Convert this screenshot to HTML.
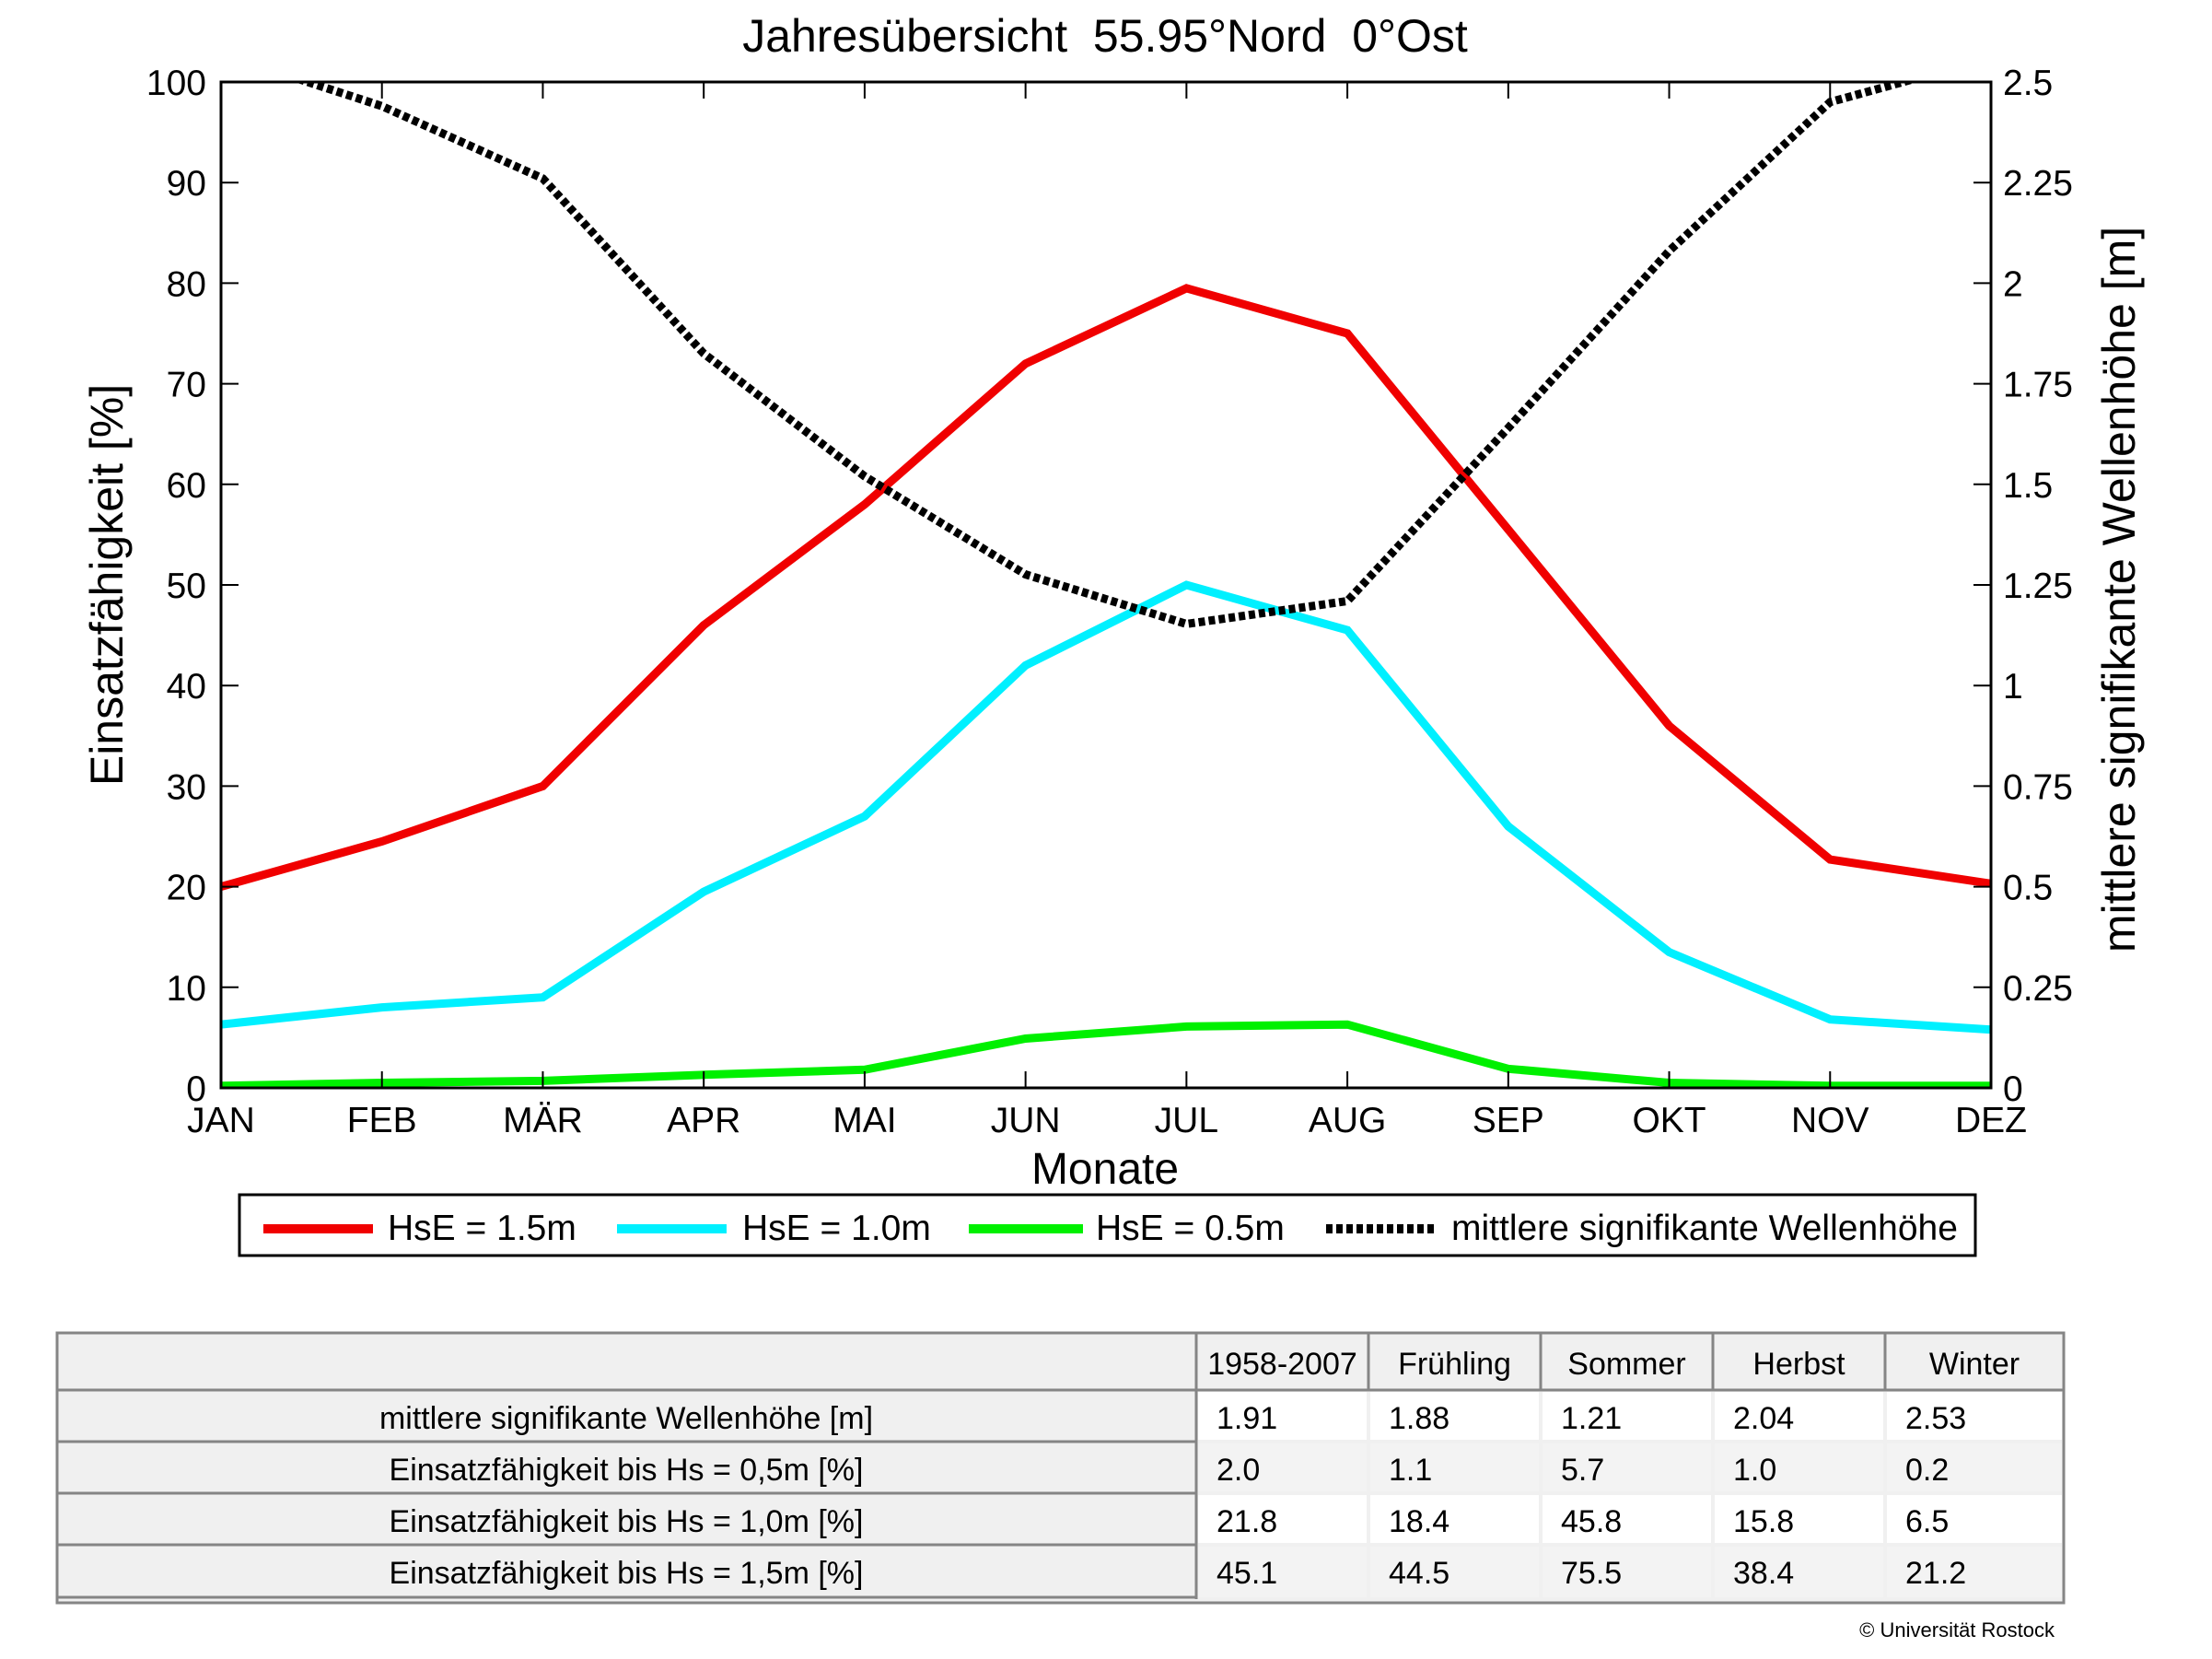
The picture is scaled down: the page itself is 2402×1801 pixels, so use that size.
<!DOCTYPE html>
<html><head><meta charset="utf-8"><style>
html,body{margin:0;padding:0;background:#fff;}
svg{display:block;font-family:"Liberation Sans",Arial,sans-serif;}
</style></head><body>
<svg id="chart" width="2402" height="1801" viewBox="0 0 2402 1801" xmlns="http://www.w3.org/2000/svg">
<defs><clipPath id="plotclip"><rect x="240" y="89" width="1922" height="1092"/></clipPath></defs>
<rect x="0" y="0" width="2402" height="1801" fill="#fff"/>
<text x="1200" y="56" font-size="50" text-anchor="middle" xml:space="preserve">Jahresübersicht  55.95°Nord  0°Ost</text>
<g id="grid"></g>
<g id="series" clip-path="url(#plotclip)"></g>
<rect x="240" y="89" width="1922" height="1092" fill="none" stroke="#000" stroke-width="3"/>
<g id="axes"></g>
<text x="1200" y="1285" font-size="48" text-anchor="middle">Monate</text>
<text transform="translate(133,635) rotate(-90)" font-size="50" text-anchor="middle">Einsatzfähigkeit [%]</text>
<text transform="translate(2318,640) rotate(-90)" font-size="50" text-anchor="middle">mittlere signifikante Wellenhöhe [m]</text>
<g>
<rect x="260" y="1297" width="1885" height="66" fill="#fff" stroke="#000" stroke-width="3"/>
<line x1="286" y1="1334" x2="405" y2="1334" stroke="#f00000" stroke-width="10"/>
<text x="421" y="1346" font-size="39">HsE = 1.5m</text>
<line x1="670" y1="1334" x2="789" y2="1334" stroke="#00f0ff" stroke-width="10"/>
<text x="806" y="1346" font-size="39">HsE = 1.0m</text>
<line x1="1052" y1="1334" x2="1176" y2="1334" stroke="#00f000" stroke-width="10"/>
<text x="1190" y="1346" font-size="39">HsE = 0.5m</text>
<line x1="1440" y1="1334" x2="1560" y2="1334" stroke="#000" stroke-width="10" stroke-dasharray="7 4"/>
<text x="1576" y="1346" font-size="39">mittlere signifikante Wellenhöhe</text>
</g>
<g id="table"></g>
<text x="2231" y="1777" font-size="22" text-anchor="end">© Universität Rostock</text>
</svg>
<script>
const months = ["JAN","FEB","MÄR","APR","MAI","JUN","JUL","AUG","SEP","OKT","NOV","DEZ"];
const hs15 = [20, 24.5, 30, 46, 58, 72, 79.5, 75, 55.5, 36, 22.7, 20.3];
const hs10 = [6.3, 8, 9, 19.5, 27, 42, 50, 45.5, 26, 13.5, 6.8, 5.8];
const hs05 = [0.2, 0.5, 0.7, 1.3, 1.8, 4.9, 6.1, 6.3, 1.9, 0.5, 0.2, 0.2];
const waveHeight = [2.57, 2.44, 2.26, 1.825, 1.52, 1.276, 1.153, 1.21, 1.64, 2.08, 2.45, 2.56];
const leftTicks = [0,10,20,30,40,50,60,70,80,90,100];
const rightTicks = ["0","0.25","0.5","0.75","1","1.25","1.5","1.75","2","2.25","2.5"];
const tableHeader = ["","1958-2007","Frühling","Sommer","Herbst","Winter"];
const tableRowLabels = ["mittlere signifikante Wellenhöhe [m]","Einsatzfähigkeit bis Hs = 0,5m [%]","Einsatzfähigkeit bis Hs = 1,0m [%]","Einsatzfähigkeit bis Hs = 1,5m [%]"];
const tableValues = [["1.91","1.88","1.21","2.04","2.53"],[" 2.0"," 1.1"," 5.7"," 1.0"," 0.2"],["21.8","18.4","45.8","15.8","6.5"],["45.1","44.5","75.5","38.4","21.2"]];

const NS="http://www.w3.org/2000/svg";
const X0=240,X1=2162,Y0=1181,Y1=89;
const xs=i=>X0+(X1-X0)*i/(months.length-1);
const yL=v=>Y0-(Y0-Y1)*v/100;
const yR=v=>Y0-(Y0-Y1)*v/2.5;
function mk(tag,attrs,parent){const e=document.createElementNS(NS,tag);for(const k in attrs)e.setAttribute(k,attrs[k]);parent.appendChild(e);return e;}
const axes=document.getElementById('axes'),series=document.getElementById('series'),tbl=document.getElementById('table');

months.forEach((m,i)=>{
  const x=xs(i);
  if(i>0&&i<months.length-1){
    const t=mk('line',{x1:x,y1:Y0,x2:x,y2:Y0-18,stroke:'#000','stroke-width':2},axes);
    
    
    const t2=mk('line',{x1:x,y1:Y1,x2:x,y2:Y1+18,stroke:'#000','stroke-width':2},axes);
    
    
  }
  const l=mk('text',{x:x,y:1229,'font-size':39,'text-anchor':'middle'},axes);
  l.textContent=m;
  
  
});
leftTicks.forEach(v=>{
  const y=yL(v);
  if(v>0&&v<100){
    const t=mk('line',{x1:X0,y1:y,x2:X0+19,y2:y,stroke:'#000','stroke-width':2},axes);
    
    
  }
  const l=mk('text',{x:224,y:y+14,'font-size':39,'text-anchor':'end'},axes);
  l.textContent=v;
  
  
});
rightTicks.forEach(s=>{
  const y=yR(parseFloat(s));
  if(parseFloat(s)>0&&parseFloat(s)<2.5){
    const t=mk('line',{x1:X1,y1:y,x2:X1-19,y2:y,stroke:'#000','stroke-width':2},axes);
    
    
  }
  const l=mk('text',{x:2175,y:y+14,'font-size':39},axes);
  l.textContent=s;
  
  
});

function line(vals,yf,color,name,dash){
  const pts=vals.map((v,i)=>xs(i).toFixed(1)+','+yf(v).toFixed(1)).join(' ');
  const a={points:pts,fill:'none',stroke:color,'stroke-width':9,'stroke-linejoin':'miter'};
  if(dash)a['stroke-dasharray']=dash;
  const p=mk('polyline',a,series);
  
  
}
line(hs05,yL,'#00f000','line-hse-05');
line(hs10,yL,'#00f0ff','line-hse-10');
line(hs15,yL,'#f00000','line-hse-15');
line(waveHeight,yR,'#000','line-mean-wave-height','7 4');

// table
const colX=[62,1299,1486,1673,1860,2047,2241];
const rowY=[1447,1509,1565,1621,1677,1736];
const TW=colX[6]-62;
const bg=mk('rect',{x:62,y:1447,width:TW,height:293,fill:'#f0f0f0'},tbl);


for(let r=0;r<4;r++){for(let c=0;c<5;c++){
  const cell=mk('rect',{x:colX[c+1]+2,y:rowY[r+1]+2,width:colX[c+2]-colX[c+1]-4,height:rowY[r+2]-rowY[r+1]-4,fill:(r%2==0)?'#ffffff':'#f3f3f3'},tbl);
  
  
}}
for(let r=1;r<5;r++){
  const l=mk('line',{x1:62,y1:rowY[r],x2:colX[1],y2:rowY[r],stroke:'#858585','stroke-width':3},tbl);
  
  
}
const hl=mk('line',{x1:62,y1:rowY[1],x2:colX[6],y2:rowY[1],stroke:'#858585','stroke-width':3},tbl);


const fcb=mk('line',{x1:62,y1:1734,x2:colX[1],y2:1734,stroke:'#858585','stroke-width':3},tbl);


for(let c=1;c<6;c++){
  const l=mk('line',{x1:colX[c],y1:1447,x2:colX[c],y2:(c==1?1736:rowY[1]),stroke:'#858585','stroke-width':3},tbl);
  
  
}
const fr=mk('rect',{x:62,y:1447,width:TW,height:293,fill:'none',stroke:'#858585','stroke-width':3},tbl);


tableHeader.forEach((h,c)=>{
  if(!h)return;
  const t=mk('text',{x:(colX[c]+colX[c+1])/2,y:1492,'font-size':34,'text-anchor':'middle'},tbl);
  t.textContent=h;
  
  
});
tableRowLabels.forEach((s,r)=>{
  const t=mk('text',{x:680,y:rowY[r+1]+42,'font-size':34,'text-anchor':'middle'},tbl);
  t.textContent=s;
  
  
  tableValues[r].forEach((v,c)=>{
    const tv=mk('text',{x:colX[c+1]+22,y:rowY[r+1]+42,'font-size':34,'xml:space':'preserve'},tbl);
    tv.textContent=v;
    
    
  });
});
</script>
</body></html>
